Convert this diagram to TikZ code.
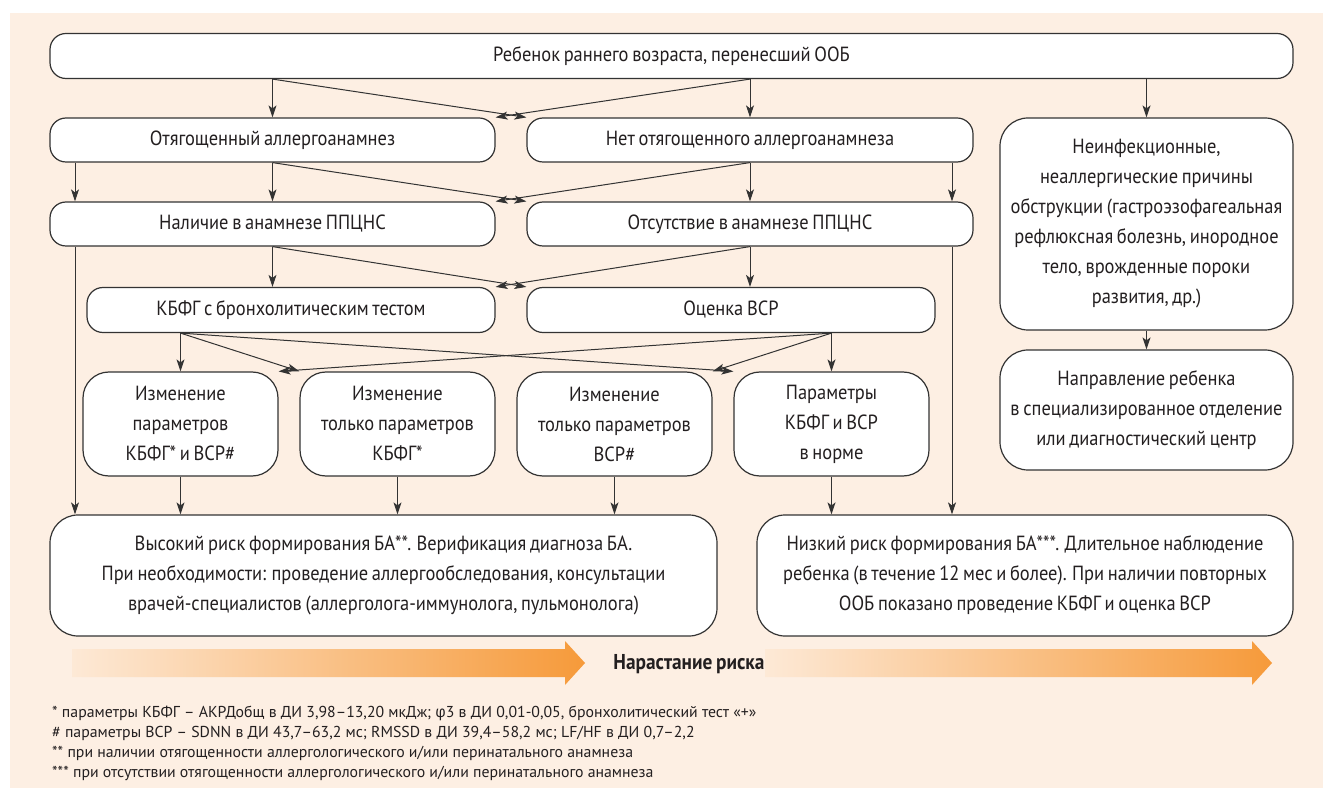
\documentclass[tikz,border=0pt]{standalone}
\usepackage{fontspec}
\setmainfont{PT Sans}[FakeStretch=0.9, WordSpace=0.75]
\newfontfamily\notefont{PT Sans}
\newfontfamily\grk{Fira Sans}[FakeStretch=0.9]
\usetikzlibrary{arrows.meta,calc}
\definecolor{bg}{HTML}{FDEFE3}
\definecolor{ln}{HTML}{333333}
\definecolor{txt}{HTML}{231F20}
\definecolor{orL}{HTML}{FDE9D6}
\definecolor{orR}{HTML}{F69A3A}
\begin{document}
\begin{tikzpicture}[x=1pt,y=-1pt,
  box/.style={draw=ln, line width=1.2pt, fill=white, rounded corners=#1, inner sep=0pt,
    text=txt, align=center, font=\fontsize{20.5}{30}\selectfont},
  box/.default=16pt,
  arr/.style={draw=ln, line width=1pt, -{Stealth[length=12pt,width=8pt,inset=3pt]}},
  note/.style={anchor=west, inner sep=0pt, text=txt, font=\notefont\fontsize{15.8}{20}\selectfont}]
\useasboundingbox (0,0) rectangle (1323,791);
\fill[bg] (10,13) rectangle (1323,788);
% row 1
\node[box, minimum width=1243pt, minimum height=45pt] (top) at (671.5,56) {Ребенок раннего возраста, перенесший ООБ};
% row 2
\node[box, minimum width=445pt, minimum height=44pt] (otyag) at (272.5,140) {Отягощенный аллергоанамнез};
\node[box, minimum width=446pt, minimum height=44pt] (net) at (750,140) {Нет отягощенного аллергоанамнеза};
% row 3
\node[box, minimum width=445pt, minimum height=44pt] (nal) at (272.5,224) {Наличие в анамнезе ППЦНС};
\node[box, minimum width=446pt, minimum height=44pt] (ots) at (750,224) {Отсутствие в анамнезе ППЦНС};
% row 4
\node[box, minimum width=408pt, minimum height=45pt] (kbfg) at (291,310) {КБФГ с бронхолитическим тестом};
\node[box, minimum width=408pt, minimum height=45pt] (ocen) at (731,310) {Оценка ВСР};
% row 5
\node[box=26pt, minimum width=195pt, minimum height=104pt] (b1) at (180.5,424) {Изменение\\параметров\\КБФГ* и ВСР\#};
\node[box=26pt, minimum width=195pt, minimum height=104pt] (b2) at (397.5,424) {Изменение\\только параметров\\КБФГ*};
\node[box=26pt, minimum width=195pt, minimum height=104pt] (b3) at (614.5,424) {Изменение\\только параметров\\ВСР\#};
\node[box=26pt, minimum width=195pt, minimum height=104pt] (b4) at (831.5,424) {Параметры\\КБФГ и ВСР\\в норме};
% right column
\node[box=28pt, minimum width=293pt, minimum height=212pt] (neinf) at (1146.5,224) {Неинфекционные,\\неаллергические причины\\обструкции (гастроэзофагеальная\\рефлюксная болезнь, инородное\\тело, врожденные пороки\\развития, др.)};
\node[box=28pt, minimum width=293pt, minimum height=120pt] (naprav) at (1146.5,410) {Направление ребенка\\в специализированное отделение\\или диагностический центр};
% bottom
\node[box=28pt, minimum width=667pt, minimum height=121pt] (high) at (383.5,575.5) {Высокий риск формирования БА**. Верификация диагноза БА.\\При необходимости: проведение аллергообследования, консультации\\врачей-специалистов (аллерголога-иммунолога, пульмонолога)};
\node[box=28pt, minimum width=536pt, minimum height=121pt] (low) at (1025,575.5) {Низкий риск формирования БА***. Длительное наблюдение\\ребенка (в течение 12 мес и более). При наличии повторных\\ООБ показано проведение КБФГ и оценка ВСР};
% helper columns
\coordinate (xl) at (75,0);
\coordinate (xr) at (952,0);
% arrows row1 -> row2
\draw[arr] (top.south -| otyag.north) -- (otyag.north);
\draw[arr] (top.south -| net.north) -- (net.north);
\draw[arr] (top.south -| otyag.north) -- (net.north west);
\draw[arr] (top.south -| net.north) -- (otyag.north east);
\draw[arr] (top.south -| neinf.north) -- (neinf.north);
% row2 -> row3
\draw[arr] (otyag.south -| xl) -- (nal.north -| xl);
\draw[arr] (otyag.south) -- (nal.north);
\draw[arr] (otyag.south) -- (ots.north west);
\draw[arr] (net.south) -- (ots.north);
\draw[arr] (net.south) -- (nal.north east);
\draw[arr] (net.south -| xr) -- (ots.north -| xr);
% long side lines
\draw[arr] (nal.south -| xl) -- (high.north -| xl);
\draw[arr] (ots.south -| xr) -- (low.north -| xr);
% row3 -> row4
\draw[arr] (nal.south) -- (kbfg.north -| nal.south);
\draw[arr] (nal.south) -- (ocen.north west);
\draw[arr] (ots.south) -- (ocen.north -| ots.south);
\draw[arr] (ots.south) -- (kbfg.north east);
% row4 -> row5
\draw[arr] (kbfg.south -| b1.north) -- (b1.north);
\draw[arr] (kbfg.south -| b1.north) -- (b2.north west);
\draw[arr] (kbfg.south -| b1.north) -- (b4.north west);
\draw[arr] (ocen.south -| b4.north) -- (b4.north);
\draw[arr] (ocen.south -| b4.north) -- (b3.north east);
\draw[arr] (ocen.south -| b4.north) -- (b1.north east);
% row5 -> bottom
\draw[arr] (b1.south) -- (high.north -| b1.south);
\draw[arr] (b2.south) -- (high.north -| b2.south);
\draw[arr] (b3.south) -- (high.north -| b3.south);
\draw[arr] (b4.south) -- (low.north -| b4.south);
\draw[arr] (neinf.south) -- (naprav.north);
% gradient arrows
\shade[left color=orL, right color=orR] (72,649) -- (565,649) -- (565,641) -- (585,663) -- (565,685) -- (565,677) -- (72,677) -- cycle;
\shade[left color=orL, right color=orR] (765,649) -- (1252,649) -- (1252,641) -- (1272,663) -- (1252,685) -- (1252,677) -- (765,677) -- cycle;
\node[text=txt, font=\fontsize{21.5}{24}\selectfont\bfseries, inner sep=0pt] (risk) at (689,664) {Нарастание риска};
% footnotes
\node[note] (n1) at (52,713) {* параметры КБФГ – АКРДобщ в ДИ 3,98–13,20 мкДж; {\grk φ}3 в ДИ 0,01-0,05, бронхолитический тест «+»};
\node[note] (n2) at (52,733) {\# параметры ВСР – SDNN в ДИ 43,7–63,2 мс; RMSSD в ДИ 39,4–58,2 мс; LF/HF в ДИ 0,7–2,2};
\node[note] (n3) at (52,753) {** при наличии отягощенности аллергологического и/или перинатального анамнеза};
\node[note] (n4) at (52,773) {*** при отсутствии отягощенности аллергологического и/или перинатального анамнеза};
\end{tikzpicture}
\end{document}
